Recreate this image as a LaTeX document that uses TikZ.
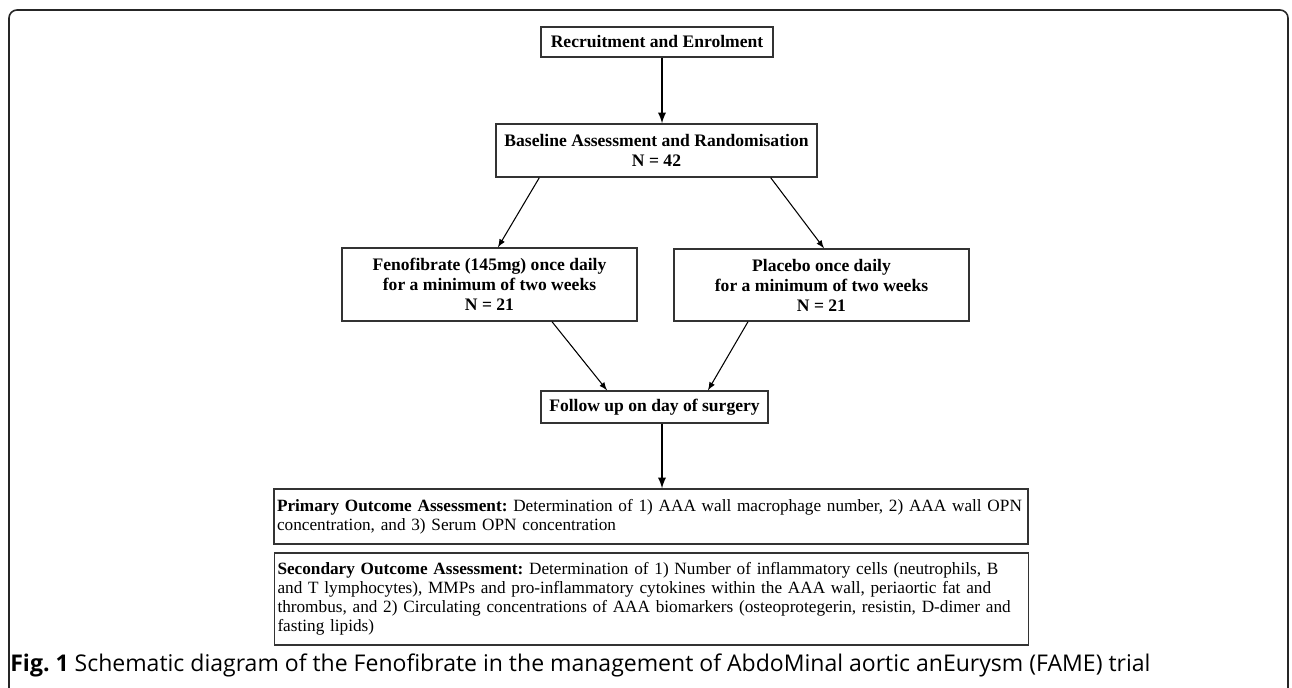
\documentclass[tikz,border=0pt]{standalone}
\usepackage{fontspec}
\setmainfont{Liberation Serif}
\newfontfamily\capfont{Open Sans}
\usepackage{tikz}
\usetikzlibrary{calc}
\frenchspacing

\begin{document}
\begin{tikzpicture}

    \tikzset{
      box/.style={
        draw=black!80,
        line width=0.8pt,
        inner sep=0pt,
        align=center,
        font=\bfseries\fontsize{10}{11.4}\selectfont,
      },
      outcome/.style={
        draw=black!80,
        line width=0.8pt,
        inner xsep=0.06cm,
        inner ysep=0pt,
        text width=14.96cm,
        align=left,
        font=\fontsize{9.8}{10.8}\selectfont,
      },
      flow/.style={
        draw=black,
        line width=1.1pt,
        -latex,
      },
      split/.style={
        draw=black,
        line width=0.6pt,
        -latex,
      },
    }
    \clip (0,0) rectangle (25.84,-13.74);
	\draw[black!85, line width=0.9pt, rounded corners=0.16cm] (0.18,-14) |- (25.76,-0.2) -- (25.76,-14);
	\node[box, minimum width=4.64cm, minimum height=0.6cm] (recruit) at (13.14,-0.84) {Recruitment and Enrolment};
	\node[box, minimum width=6.42cm, minimum height=1.06cm] (baseline) at (13.13,-3.01) {Baseline Assessment and Randomisation\\ N = 42};
	\node[box, minimum width=5.9cm, minimum height=1.46cm] (feno) at (9.79,-5.69) {Fenofibrate (145mg) once daily\\ for a minimum of two weeks\\ N = 21};
	\node[box, minimum width=5.9cm, minimum height=1.44cm] (placebo) at (16.43,-5.70) {Placebo once daily\\ for a minimum of two weeks\\ N = 21};
	\node[box, minimum width=4.54cm, minimum height=0.64cm] (follow) at (13.09,-8.14) {Follow up on day of surgery};
	\node[outcome, minimum height=1.1cm] (primary) at (13.02,-10.33) {\textbf{Primary Outcome Assessment:} Determination of 1) AAA wall macrophage number, 2) AAA wall OPN\\ concentration, and 3) Serum OPN concentration};
	\node[outcome, minimum height=1.84cm] (secondary) at (13.03,-11.98) {\textbf{Secondary Outcome Assessment:} Determination of 1) Number of inflammatory cells (neutrophils, B\\ and T lymphocytes), MMPs and pro-inflammatory cytokines within the AAA wall, periaortic fat and\\ thrombus, and 2) Circulating concentrations of AAA biomarkers (osteoprotegerin, resistin, D-dimer and\\ fasting lipids)};
	\node[anchor=base west, inner sep=0pt, font=\capfont\fontsize{13.1}{15}\selectfont] (caption) at (0.2,-13.42) {\textbf{Fig. 1} Schematic diagram of the Fenofibrate in the management of AbdoMinal aortic anEurysm (FAME) trial};
	\draw[flow] ([xshift=0.1cm]recruit.south) -- ([xshift=0.1cm]recruit.south |- baseline.north);
	\draw[split] ([xshift=0.88cm]baseline.south west) -- ([xshift=0.17cm]feno.north);
	\draw[split] ([xshift=-0.94cm]baseline.south east) -- ([xshift=0.05cm]placebo.north);
	\draw[split] ([xshift=1.25cm]feno.south) -- ([xshift=-0.95cm]follow.north);
	\draw[split] ([xshift=-1.47cm]placebo.south) -- ([xshift=1.07cm]follow.north);
	\draw[flow] ([xshift=0.15cm]follow.south) -- ([xshift=0.15cm]follow.south |- primary.north);

\end{tikzpicture}
\end{document}
